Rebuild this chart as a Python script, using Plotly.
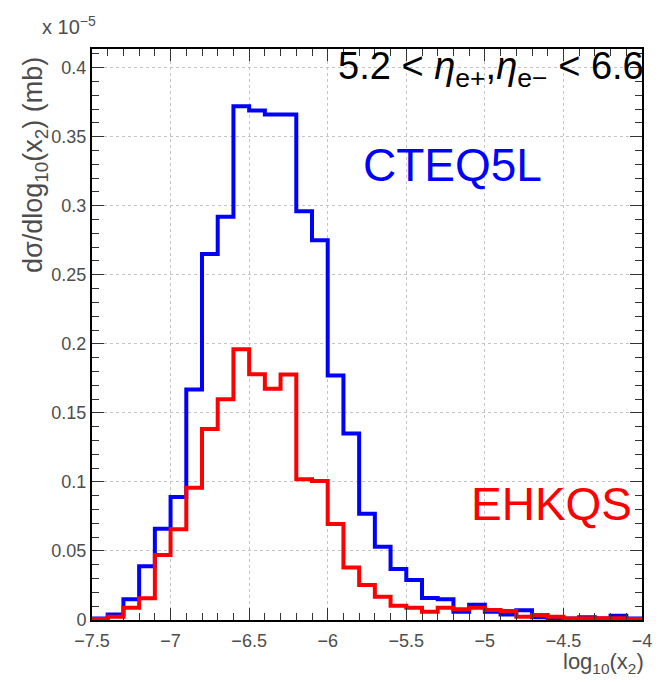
import numpy as np
import plotly.graph_objects as go

# Histogram binning in log10(x2)
bin_lo = -7.5
bin_width = 0.1
n_bins = 35

# dsigma/dlog10(x2) in units of 1e-5 mb
cteq5l = [0.001, 0.004, 0.015, 0.039, 0.066, 0.089, 0.167, 0.265, 0.292, 0.372,
          0.369, 0.366, 0.366, 0.296, 0.275, 0.177, 0.135, 0.077, 0.053, 0.037,
          0.029, 0.016, 0.015, 0.006, 0.011, 0.006, 0.004, 0.007, 0.002, 0.001,
          0.001, 0.002, 0.001, 0.003, 0.001]
ehkqs = [0.0007, 0.0024, 0.0089, 0.0157, 0.047, 0.0657, 0.0958, 0.1383, 0.1598, 0.196,
         0.178, 0.1675, 0.1777, 0.1019, 0.1007, 0.0695, 0.0381, 0.0253, 0.0169, 0.0104,
         0.0089, 0.006, 0.0089, 0.0077, 0.0089, 0.0072, 0.0065, 0.0024, 0.0036, 0.0024,
         0.001, 0.0012, 0.0012, 0.0012, 0.0007]

x_ticks = [-7.5, -7, -6.5, -6, -5.5, -5, -4.5, -4]
x_tick_text = ["\u22127.5", "\u22127", "\u22126.5", "\u22126", "\u22125.5", "\u22125", "\u22124.5", "\u22124"]
y_ticks = [0, 0.05, 0.1, 0.15, 0.2, 0.25, 0.3, 0.35, 0.4]
y_tick_text = ["0", "0.05", "0.1", "0.15", "0.2", "0.25", "0.3", "0.35", "0.4"]

edges = np.round(bin_lo + bin_width * np.arange(n_bins + 1), 3)


def step_xy(values):
    xs = [edges[0]] + list(edges) + [edges[-1]]
    ys = [0] + list(values) + [values[-1], 0]
    return xs, ys


FONT = "Liberation Sans, Arial, sans-serif"
GREY = "#4d4d4d"

fig = go.Figure()
for vals, col in ((cteq5l, "#0000ff"), (ehkqs, "#ff0000")):
    xs, ys = step_xy(vals)
    fig.add_trace(go.Scatter(x=xs, y=ys, mode="lines", line=dict(color=col, width=4, shape="hv"),
                             showlegend=False, hoverinfo="skip"))

axis_common = dict(
    showline=True, linecolor="black", linewidth=2, mirror="allticks",
    ticks="inside", ticklen=12, tickwidth=1, tickcolor="#333333",
    showgrid=True, gridcolor="#c4c4c4", griddash="dot", gridwidth=1,
    zeroline=False, tickfont=dict(family=FONT, size=18, color=GREY),
)

fig.update_xaxes(range=[-7.5, -4], tickvals=x_ticks, ticktext=x_tick_text,
                 minor=dict(dtick=0.1, ticks="inside", ticklen=7, tickcolor="#333333", showgrid=False),
                 ticklabelstandoff=3, **axis_common)
fig.update_yaxes(range=[0, 0.4135], tickvals=y_ticks, ticktext=y_tick_text,
                 minor=dict(dtick=0.01, ticks="inside", ticklen=7, tickcolor="#333333", showgrid=False),
                 ticklabelstandoff=0, **axis_common)

L, R, T, B = 92, 652, 49, 620
PW, PH = R - L, B - T


def px(x):
    return (x - L) / PW


def py(y):
    return (B - y) / PH


annotations = [
    dict(text="5.2 &lt; <i>\u03b7</i><sub>e+</sub>,<i>\u03b7</i><sub>e\u2212</sub> &lt; 6.6",
         x=px(656), y=py(69), xanchor="right", yanchor="middle",
         font=dict(family=FONT, size=38, color="black")),
    dict(text="CTEQ5L", x=px(459), y=py(165), xanchor="center", yanchor="middle",
         font=dict(family=FONT, size=46, color="#0000ff")),
    dict(text="EHKQS", x=px(560), y=py(504), xanchor="center", yanchor="middle",
         font=dict(family=FONT, size=46, color="#ff0000")),
    dict(text="log<sub>10</sub>(x<sub>2</sub>)", x=px(656), y=py(663), xanchor="right", yanchor="middle",
         font=dict(family=FONT, size=22, color=GREY)),
    dict(text="d\u03c3/dlog<sub>10</sub>(x<sub>2</sub>) (mb)", x=px(34), y=py(165),
         xanchor="center", yanchor="middle", textangle=-90,
         font=dict(family=FONT, size=27, color=GREY)),
    dict(text="x 10<sup>\u22125</sup>", x=px(39), y=py(26), xanchor="left", yanchor="middle",
         font=dict(family=FONT, size=20, color=GREY)),
]
for a in annotations:
    a.update(xref="paper", yref="paper", showarrow=False)

fig.update_layout(
    width=663, height=682,
    margin=dict(l=L, r=663 - R, t=T, b=682 - B),
    paper_bgcolor="white", plot_bgcolor="white",
    annotations=annotations,
)

fig.write_html("out.html")
